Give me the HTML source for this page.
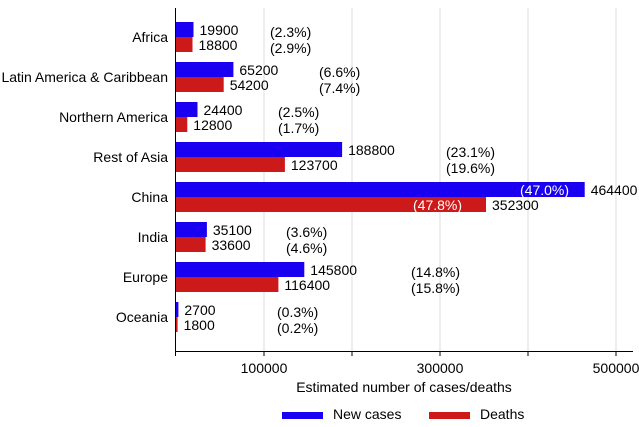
<!DOCTYPE html><html><head><style>body{margin:0;background:#fff}svg{font-family:"Liberation Sans",sans-serif}</style></head><body>
<svg width="639" height="422" xmlns="http://www.w3.org/2000/svg" font-size="14">
<g stroke="#ddd" stroke-width="1">
<line x1="264" y1="8" x2="264" y2="351"/><line x1="352" y1="8" x2="352" y2="351"/><line x1="440" y1="8" x2="440" y2="351"/><line x1="528" y1="8" x2="528" y2="351"/><line x1="616" y1="8" x2="616" y2="351"/>
</g>
<g stroke="#000">
<line x1="175.5" y1="8" x2="175.5" y2="356"/><line x1="175" y1="351.5" x2="633" y2="351.5"/>
<line x1="264" y1="351" x2="264" y2="356"/><line x1="352" y1="351" x2="352" y2="356"/><line x1="440" y1="351" x2="440" y2="356"/><line x1="528" y1="351" x2="528" y2="356"/><line x1="616" y1="351" x2="616" y2="356"/>
</g>
<g fill="#1a00f0">
<rect x="176" y="22" width="17.5" height="15"/>
<rect x="176" y="62" width="57.4" height="15"/>
<rect x="176" y="102" width="21.5" height="15"/>
<rect x="176" y="142" width="166.1" height="15"/>
<rect x="176" y="182" width="408.7" height="15"/>
<rect x="176" y="222" width="30.9" height="15"/>
<rect x="176" y="262" width="128.3" height="15"/>
<rect x="176" y="302" width="2.4" height="15"/>
</g>
<g fill="#cc1a1a">
<rect x="176" y="37" width="16.5" height="15"/>
<rect x="176" y="77" width="47.7" height="15"/>
<rect x="176" y="117" width="11.3" height="15"/>
<rect x="176" y="157" width="108.9" height="15"/>
<rect x="176" y="197" width="310" height="15"/>
<rect x="176" y="237" width="29.6" height="15"/>
<rect x="176" y="277" width="102.4" height="15"/>
<rect x="176" y="317" width="1.6" height="15"/>
</g>
<g text-anchor="end">
<text x="168" y="42">Africa</text>
<text x="168" y="82">Latin America &amp; Caribbean</text>
<text x="168" y="122">Northern America</text>
<text x="168" y="162">Rest of Asia</text>
<text x="168" y="202">China</text>
<text x="168" y="242">India</text>
<text x="168" y="282">Europe</text>
<text x="168" y="322">Oceania</text>
</g>
<text x="199.5" y="35">19900</text><text x="198.5" y="50">18800</text>
<text x="239.4" y="75">65200</text><text x="229.7" y="90">54200</text>
<text x="203.5" y="115">24400</text><text x="193.3" y="130">12800</text>
<text x="348.1" y="155">188800</text><text x="290.9" y="170">123700</text>
<text x="590.7" y="195">464400</text><text x="492" y="210">352300</text>
<text x="212.9" y="235">35100</text><text x="211.6" y="250">33600</text>
<text x="310.3" y="275">145800</text><text x="284.4" y="290">116400</text>
<text x="184.4" y="315">2700</text><text x="183.6" y="330">1800</text>

<text x="270" y="37">(2.3%)</text><text x="270" y="53">(2.9%)</text>
<text x="319" y="77">(6.6%)</text><text x="319" y="93">(7.4%)</text>
<text x="278" y="117">(2.5%)</text><text x="278" y="133">(1.7%)</text>
<text x="446" y="157">(23.1%)</text><text x="446" y="173">(19.6%)</text>
<text x="520" y="195" fill="#fff">(47.0%)</text><text x="413" y="210" fill="#fff">(47.8%)</text>
<text x="286" y="237">(3.6%)</text><text x="286" y="253">(4.6%)</text>
<text x="411" y="277">(14.8%)</text><text x="411" y="293">(15.8%)</text>
<text x="277" y="317">(0.3%)</text><text x="277" y="333">(0.2%)</text>

<g text-anchor="middle"><text x="264" y="373">100000</text><text x="440" y="373">300000</text><text x="616" y="373">500000</text>
<text x="404" y="392">Estimated number of cases/deaths</text></g>
<rect x="282" y="412" width="41" height="7" fill="#1a00f0"/><text x="333" y="419">New cases</text>
<rect x="429" y="412" width="41" height="7" fill="#cc1a1a"/><text x="480" y="419">Deaths</text>
</svg></body></html>
